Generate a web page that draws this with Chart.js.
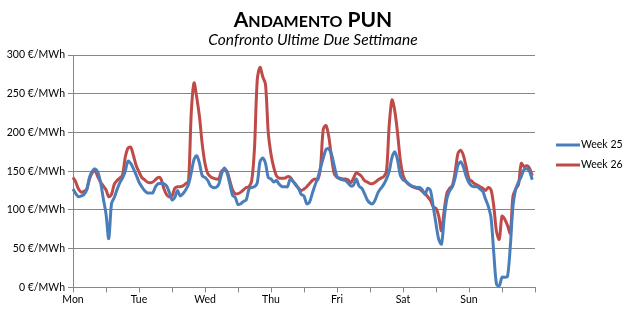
<!DOCTYPE html>
<html>
<head>
<meta charset="utf-8">
<script src="https://cdn.jsdelivr.net/npm/chart.js@4.4.1/dist/chart.umd.min.js"></script>
<style>
  body { margin: 0; background: #fff; }
  #wrap { width: 628px; height: 312px; }
</style>
</head>
<body>
<div id="wrap"><canvas id="punChart"></canvas></div>
<script>
// days shown on the x axis, one value per hour
const days = ['Mon', 'Tue', 'Wed', 'Thu', 'Fri', 'Sat', 'Sun'];

const week25 = [
  127, 121, 117, 118, 120, 126, 142, 150, 153, 149, 136, 115, 95, 63, 108, 116, 126, 135, 141, 150, 163, 160, 153, 145,
  136, 130, 125, 122, 122, 122, 130, 134, 134, 134, 131, 123, 113, 116, 125, 118, 121, 126, 133, 148, 165, 170, 160, 144,
  142, 138, 131, 129, 129, 133, 146, 154, 148, 134, 119, 116, 107, 108, 111, 113, 127, 129, 130, 135, 162, 167, 160, 142,
  140, 136, 138, 133, 130, 130, 130, 140, 137, 133, 128, 120, 118, 108, 110, 121, 132, 141, 154, 167, 178, 179, 172, 157,
  143, 140, 139, 138, 135, 131, 132, 140, 131, 128, 121, 113, 109, 108, 114, 123, 128, 133, 140, 150, 168, 175, 165, 145,
  139, 137, 134, 131, 130, 129, 129, 126, 120, 128, 125, 104, 82, 62, 56, 90, 115, 125, 130, 142, 158, 162, 155, 143,
  135, 131, 130, 130, 127, 124, 114, 105, 90, 45, 4, 2, 13, 13, 14, 52, 105, 127, 136, 143, 152, 153, 150, 139
];

const week26 = [
  142, 136, 127, 123, 124, 127, 140, 148, 151, 143, 136, 131, 126, 117, 120, 133, 138, 141, 145, 168, 180, 181, 170, 157,
  149, 142, 139, 136, 135, 136, 139, 142, 140, 128, 120, 117, 118, 128, 130, 130, 131, 134, 137, 225, 264, 245, 220, 185,
  160, 147, 143, 141, 140, 140, 150, 152, 150, 138, 126, 121, 121, 123, 126, 129, 130, 138, 180, 268, 284, 272, 262, 200,
  172, 155, 144, 141, 141, 141, 143, 142, 137, 132, 128, 125, 127, 130, 134, 138, 140, 139, 155, 204, 209, 195, 168, 147,
  142, 141, 140, 140, 139, 135, 141, 148, 146, 143, 138, 136, 134, 134, 136, 139, 141, 143, 150, 210, 242, 228, 200, 165,
  145, 137, 133, 131, 129, 128, 127, 124, 121, 117, 112, 104, 102, 92, 73, 100, 122, 128, 132, 150, 173, 177, 170, 155,
  140, 137, 134, 132, 130, 128, 125, 129, 126, 105, 72, 62, 92, 88, 80, 70, 118, 127, 133, 160, 156, 157, 154, 144
];

const yTicks = [0, 50, 100, 150, 200, 250, 300];

// one label per hour, plus a closing slot so the last tick sits on the right edge
const labels = [];
days.forEach(d => { for (let h = 0; h < 24; h++) labels.push(d); });
labels.push('');

const FONT = 'Lato, "Open Sans", sans-serif';

// title (small caps) and subtitle, centred on the whole canvas
const headings = {
  id: 'headings',
  afterDraw(chart) {
    const c = chart.ctx;
    const cx = 313;
    const words = 'Andamento PUN'.split(' ');
    const big = 'bold 21px ' + FONT, small = 'bold 16px ' + FONT;
    const parts = [];
    words.forEach((w, i) => {
      if (i > 0) parts.push([' ', big]);
      parts.push([w[0], big]);
      const rest = w.slice(1);
      if (rest) {
        if (rest === rest.toUpperCase()) parts.push([rest, big]);
        else parts.push([rest.toUpperCase(), small]);
      }
    });
    c.save();
    let total = 0;
    parts.forEach(p => { c.font = p[1]; total += c.measureText(p[0]).width; });
    let x = cx - total / 2;
    c.fillStyle = '#000';
    c.textBaseline = 'alphabetic';
    c.textAlign = 'left';
    parts.forEach(p => { c.font = p[1]; c.fillText(p[0], x, 27); x += c.measureText(p[0]).width; });

    c.font = 'italic 15.5px ' + FONT;
    c.textAlign = 'center';
    c.textBaseline = 'middle';
    c.fillText('Confronto Ultime Due Settimane', cx, 40);
    c.restore();
  }
};

// legend on the right, line sample then label
const sideLegend = {
  id: 'sideLegend',
  afterDraw(chart) {
    const c = chart.ctx;
    c.save();
    c.font = '10.5px ' + FONT;
    c.textBaseline = 'middle';
    chart.data.datasets.forEach((ds, i) => {
      const y = 145 + i * 20;
      c.strokeStyle = ds.borderColor;
      c.lineWidth = 3;
      c.beginPath();
      c.moveTo(556, y);
      c.lineTo(580, y);
      c.stroke();
      c.fillStyle = '#000';
      c.fillText(ds.label, 581, y);
    });
    c.restore();
  }
};

const ctx = document.getElementById('punChart').getContext('2d');
new Chart(ctx, {
  type: 'line',
  data: {
    labels: labels,
    datasets: [{
      label: 'Week 25',
      data: week25,
      borderColor: '#4a7ebb',
      backgroundColor: '#4a7ebb',
      borderWidth: 3,
      pointRadius: 0,
      tension: 0.3
    }, {
      label: 'Week 26',
      data: week26,
      borderColor: '#be4b48',
      backgroundColor: '#be4b48',
      borderWidth: 3,
      pointRadius: 0,
      tension: 0.3
    }]
  },
  plugins: [headings, sideLegend],
  options: {
    responsive: true,
    maintainAspectRatio: false,
    animation: false,
    layout: { padding: { left: 0, right: 93, top: 55, bottom: 5 } },
    plugins: {
      title: { display: false },
      legend: { display: false },
      tooltip: { enabled: false }
    },
    scales: {
      x: {
        grid: { drawOnChartArea: false, color: '#868686', tickLength: 5 },
        border: { color: '#868686' },
        ticks: {
          autoSkip: false,
          maxRotation: 0,
          color: '#000',
          font: { family: FONT, size: 10.5 },
          padding: 1,
          callback: function (value, index) {
            if (index % 24 === 0) return this.getLabelForValue(value);
            if (index % 12 === 0) return '';
            return null;
          }
        }
      },
      y: {
        min: 0,
        max: 300,
        afterBuildTicks: axis => { axis.ticks = yTicks.map(v => ({ value: v })); },
        afterFit: axis => { axis.width = 73; },
        grid: { color: '#868686', tickLength: 5 },
        border: { color: '#868686' },
        ticks: {
          color: '#000',
          font: { family: FONT, size: 10.5 },
          padding: 3,
          callback: v => v + ' €/MWh'
        }
      }
    }
  }
});
</script>
</body>
</html>
